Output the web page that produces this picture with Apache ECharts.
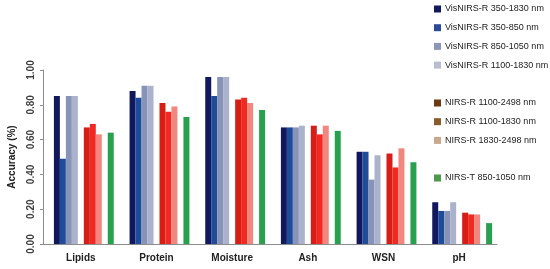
<!DOCTYPE html>
<html>
<head>
<meta charset="utf-8">
<script src="https://cdn.jsdelivr.net/npm/echarts@6/dist/echarts.min.js"></script>
<style>
  html, body { margin: 0; padding: 0; background: #fff; }
  #chart { width: 550px; height: 269px; }
</style>
</head>
<body>
<div id="chart"></div>
<script>
// categories + tick labels
const categories = ['Lipids', 'Protein', 'Moisture', 'Ash', 'WSN', 'pH']
const yTicks = [0, 0.2, 0.4, 0.6, 0.8, 1.0]

// series values
const visAll = [0.85, 0.88, 0.96, 0.67, 0.53, 0.24]
const vis350_850 = [0.49, 0.84, 0.85, 0.67, 0.53, 0.19]
const vis850_1050 = [0.85, 0.91, 0.96, 0.67, 0.37, 0.19]
const vis1100_1830 = [0.85, 0.91, 0.96, 0.68, 0.51, 0.24]
const nirAll = [0.67, 0.81, 0.83, 0.68, 0.52, 0.18]
const nir1100_1830 = [0.69, 0.76, 0.84, 0.63, 0.44, 0.17]
const nir1830_2498 = [0.63, 0.79, 0.81, 0.68, 0.55, 0.17]
const nirT = [0.64, 0.73, 0.77, 0.65, 0.47, 0.12]
const blank = [null, null, null, null, null, null]

const names = [
  'VisNIRS-R 350-1830 nm', 'VisNIRS-R 350-850 nm', 'VisNIRS-R 850-1050 nm', 'VisNIRS-R 1100-1830 nm',
  'NIRS-R 1100-2498 nm', 'NIRS-R 1100-1830 nm', 'NIRS-R 1830-2498 nm',
  'NIRS-T 850-1050 nm'
]
const barColors = ['#12185e', '#1f4c9a', '#8794b8', '#aab2cc', '#d81c16', '#f02a22', '#f2877f', '#27a14e']
const legendColors = ['#12185e', '#2a4a9a', '#8c96b8', '#b8bdd2', '#6b3a12', '#8b5a2b', '#c9a88e', '#4a9a4a']

function bar(name, data, color) {
  return {
    name: name, type: 'bar', data: data,
    barGap: 0, barCategoryGap: '13%',
    itemStyle: { color: color }
  }
}

const series = [
  bar('gap0', blank, 'transparent'),
  bar(names[0], visAll, barColors[0]),
  bar(names[1], vis350_850, barColors[1]),
  bar(names[2], vis850_1050, barColors[2]),
  bar(names[3], vis1100_1830, barColors[3]),
  bar('gap1', blank, 'transparent'),
  bar(names[4], nirAll, barColors[4]),
  bar(names[5], nir1100_1830, barColors[5]),
  bar(names[6], nir1830_2498, barColors[6]),
  bar('gap2', blank, 'transparent'),
  bar(names[7], nirT, barColors[7])
]

function legendGroup(idx, top) {
  return {
    orient: 'vertical', left: 434, top: top, padding: 0,
    itemWidth: 7, itemHeight: 7, itemGap: 6.7, icon: 'rect',
    selectedMode: false,
    textStyle: { fontSize: 9, color: '#222', lineHeight: 12, padding: [0, 0, 0, -1],
      fontFamily: '"Liberation Sans", sans-serif' },
    data: idx.map(i => ({ name: names[i], itemStyle: { color: legendColors[i] } }))
  }
}

const chart = echarts.init(document.getElementById('chart'), null, { renderer: 'canvas' })
chart.setOption({
  animation: false,
  grid: { left: 43, right: 53, top: 70, bottom: 25, containLabel: false, outerBoundsMode: 'none' },
  legend: [
    legendGroup([0, 1, 2, 3], 3),
    legendGroup([4, 5, 6], 97),
    legendGroup([7], 172)
  ],
  xAxis: {
    type: 'category', data: categories,
    axisLine: { lineStyle: { color: '#8c8c8c' } },
    axisTick: { length: 3, lineStyle: { color: '#8c8c8c' } },
    axisLabel: { fontSize: 10, fontWeight: 'bold', color: '#222', margin: 9,
      fontFamily: '"Liberation Sans", sans-serif' }
  },
  yAxis: {
    type: 'value', min: yTicks[0], max: yTicks[yTicks.length - 1], interval: 0.2,
    name: 'Accuracy (%)', nameLocation: 'middle', nameGap: 26,
    nameTextStyle: { fontSize: 10, fontWeight: 'bold', color: '#222',
      fontFamily: '"Liberation Sans", sans-serif' },
    splitLine: { show: false },
    axisLine: { show: true, lineStyle: { color: '#8c8c8c' } },
    axisTick: { show: true, length: 3, lineStyle: { color: '#8c8c8c' } },
    axisLabel: { rotate: 90, margin: 7, fontSize: 10, fontWeight: 'bold', color: '#404040',
      fontFamily: '"Liberation Sans", sans-serif',
      formatter: v => v.toFixed(2) }
  },
  series: series
})
</script>
</body>
</html>
